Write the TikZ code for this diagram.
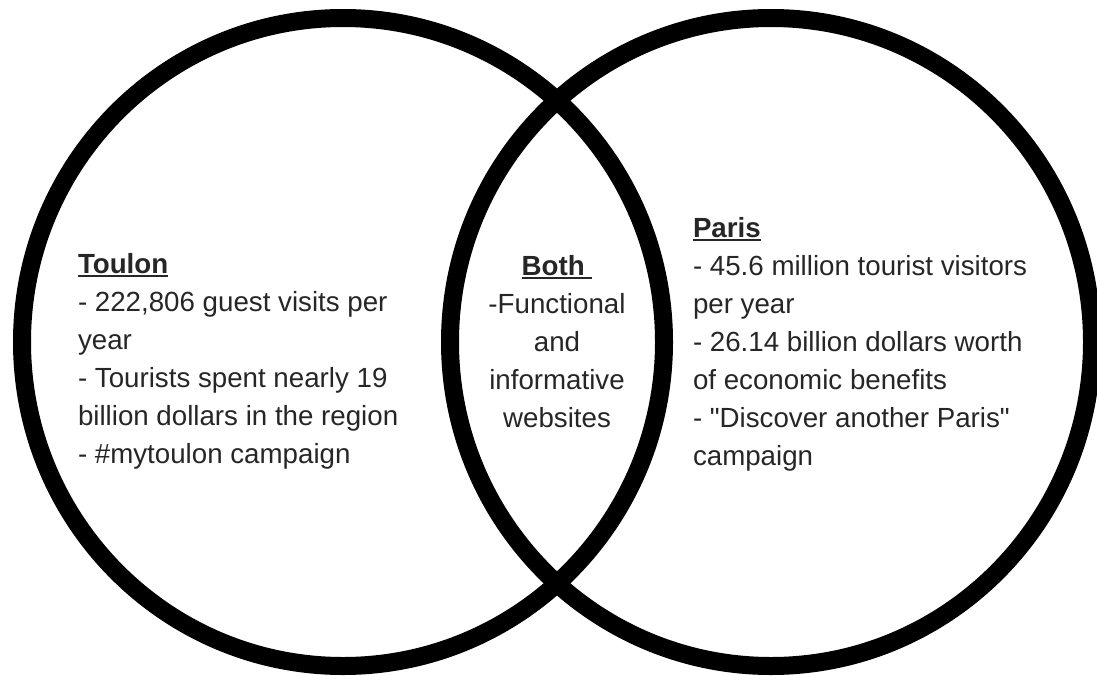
\documentclass[tikz,border=0pt]{standalone}
\usepackage{fontspec}
\setmainfont{Liberation Sans}[Ligatures=TeXOff]
\definecolor{txt}{HTML}{262626}
\newcommand\myul[1]{\setbox0\hbox{#1}\rlap{\rule[-3.5pt]{\wd0}{2pt}}\box0}
\begin{document}
\begin{tikzpicture}[x=1pt,y=-1pt,
  ring/.style={draw=black,line width=18pt},
  body/.style={inner sep=0pt,outer sep=0pt,text=txt,font=\fontsize{27.7}{38}\selectfont}]
\useasboundingbox (0,0) rectangle (1097,675);
\clip (0,0) rectangle (1097,675);
\fill[white] (0,0) rectangle (1097,675);
\draw[ring] (343,342) ellipse[x radius=321pt,y radius=324pt];
\draw[ring] (771,342) ellipse[x radius=321pt,y radius=324pt];
\node[body,anchor=north west,align=left] (toulon) at (78,246.4)
  {\strut\textbf{\myul{Toulon}}\\- 222,806 guest visits per\\year\\- Tourists spent nearly 19\\billion dollars in the region\\- \#mytoulon campaign};
\node[body,anchor=north,align=center] (both) at (557,248.4)
  {\strut\textbf{\myul{Both\ }}\\-Functional\\and\\informative\\websites};
\node[body,anchor=north west,align=left] (paris) at (693,210.4)
  {\strut\textbf{\myul{Paris}}\\- 45.6 million tourist visitors\\per year\\- 26.14 billion dollars worth\\of economic benefits\\- "Discover another Paris"\\campaign};
\end{tikzpicture}
\end{document}
